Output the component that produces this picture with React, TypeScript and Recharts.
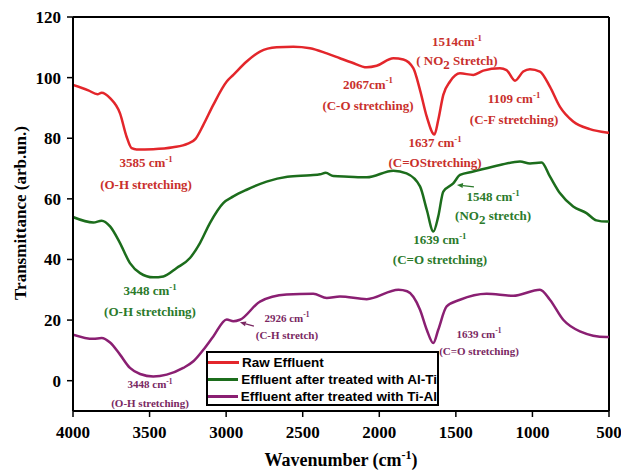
import React from 'react';
import { LineChart, Line, XAxis, YAxis, ReferenceLine, ReferenceDot } from 'recharts';

// [wavenumber, transmittance]
const rawEffluent: number[][] = [
  [4000, 97.6], [3900, 95.8], [3840, 94.5], [3813, 95.0], [3758, 93.2], [3693, 88.2], [3650, 80.5],
  [3617, 76.7], [3585, 76.3], [3477, 76.4], [3347, 77.0], [3250, 78.2], [3200, 79.8], [3149, 84.4], [3084, 91.0],
  [2996, 98.7], [2953, 100.9], [2866, 105.3], [2779, 108.6], [2670, 110.0], [2561, 110.2], [2452, 109.7],
  [2343, 108.0], [2257, 106.4], [2180, 105.0], [2082, 103.4], [2017, 103.9], [1908, 106.4], [1843, 106.0],
  [1778, 103.1], [1734, 95.9], [1690, 87.1], [1640, 81.2], [1615, 86.0], [1582, 94.3], [1538, 98.7],
  [1473, 101.4], [1386, 100.9], [1321, 102.3], [1212, 103.1], [1169, 102.5], [1114, 99.0], [1060, 102.0],
  [1016, 102.8], [951, 102.0], [886, 97.0], [821, 90.4], [734, 85.5], [625, 83.0], [517, 81.9], [500, 81.8],
];

const alTi: number[][] = [
  [4000, 54.0], [3867, 52.2], [3813, 52.8], [3758, 50.9], [3693, 45.4], [3628, 38.8], [3562, 35.5],
  [3476, 34.1], [3410, 34.4], [3323, 37.2], [3236, 40.5], [3171, 45.4], [3106, 52.0], [3019, 58.6],
  [2953, 60.8], [2866, 63.0], [2736, 65.7], [2600, 67.3], [2450, 67.8], [2386, 68.1], [2350, 68.6],
  [2300, 67.5], [2200, 67.3], [2082, 67.1], [1908, 69.3], [1822, 68.4], [1734, 64.1], [1690, 56.4],
  [1647, 49.2], [1615, 54.2], [1582, 62.4], [1517, 65.1], [1473, 67.9], [1386, 69.0], [1212, 71.2],
  [1081, 72.3], [1016, 71.7], [940, 72.0], [886, 67.4], [821, 61.9], [734, 57.5], [647, 55.3],
  [582, 52.9], [517, 52.5], [500, 52.5],
];

const tiAl: number[][] = [
  [4000, 15.2], [3867, 13.8], [3813, 14.1], [3758, 12.6], [3693, 8.6], [3628, 4.2], [3562, 2.2],
  [3476, 1.4], [3388, 2.0], [3280, 4.2], [3214, 6.4], [3149, 10.2], [3084, 14.6], [2996, 20.2],
  [2953, 19.6], [2910, 20.1], [2779, 26.1], [2606, 28.4], [2431, 28.7], [2343, 27.3], [2257, 27.8],
  [2082, 26.9], [1875, 30.0], [1818, 29.5], [1734, 23.4], [1690, 16.8], [1647, 12.4], [1615, 16.8],
  [1560, 24.5], [1473, 26.7], [1299, 28.7], [1125, 28.0], [951, 30.0], [886, 26.7], [799, 20.1],
  [690, 16.3], [517, 14.4], [500, 14.4],
];

const xTicks = [4000, 3500, 3000, 2500, 2000, 1500, 1000, 500];
const yTicks = [0, 20, 40, 60, 80, 100, 120];

const series = [
  { name: 'Raw Effluent', color: '#e3262b', data: rawEffluent },
  { name: 'Effluent after treated with Al-Ti', color: '#1c6d1c', data: alTi },
  { name: 'Effluent after treated with Ti-Al', color: '#8a1f72', data: tiAl },
];

// annotation: position (wavenumber, T) of first line centre
const annotations = [
  { w: 3523, t: 71.9, color: '#c9302c', size: 13, gap: 22, lines: ['3585 cm^-1', '(O-H stretching)'] },
  { w: 2074, t: 97.9, color: '#c9302c', size: 13, gap: 21, lines: ['2067cm^-1', '(C-O stretching)'] },
  { w: 1493, t: 111.8, color: '#c9302c', size: 13, gap: 19, lines: ['1514cm^-1', '( NO_2 Stretch)'] },
  { w: 1636, t: 78.5, color: '#c9302c', size: 13, gap: 20, lines: ['1637 cm^-1', '(C=OStretching)'] },
  { w: 1120, t: 93.0, color: '#c9302c', size: 13, gap: 21, lines: ['1109 cm^-1', '(C-F stretching)'] },
  { w: 3497, t: 29.7, color: '#2b7a2b', size: 13, gap: 21, lines: ['3448 cm^-1', '(O-H stretching)'] },
  { w: 1604, t: 46.5, color: '#2b7a2b', size: 13, gap: 20, lines: ['1639 cm^-1', '(C=O stretching)'] },
  { w: 1257, t: 60.7, color: '#2b7a2b', size: 13, gap: 19, lines: ['1548 cm^-1', '(NO_2 stretch)'] },
  { w: 2603, t: 20.8, color: '#7a2862', size: 11, gap: 17, lines: ['2926 cm^-1', '(C-H stretch)'] },
  { w: 1349, t: 15.5, color: '#7a2862', size: 11, gap: 17, lines: ['1639 cm^-1', '(C=O stretching)'] },
  { w: 3497, t: -1.3, color: '#7a2862', size: 11, gap: 19, lines: ['3448 cm^-1', '(O-H stretching)'] },
];

// arrow heads (wavenumber, T), tail offset in px
const arrows = [
  { w: 1493, t: 64.6, dx: 17, dy: 2, color: '#2b7a2b' },
  { w: 2910, t: 19.3, dx: 14, dy: 4, color: '#7a2862' },
];

const serif = '"Liberation Serif", "Times New Roman", serif';
const sans = '"Liberation Sans", Arial, sans-serif';

const RichLine = ({ text, x, y, size, color }: any) => {
  const parts = text.split(/(\^-1|_2)/).filter((p: string) => p !== '');
  let shift = 0;
  return (
    <text x={x} y={y} textAnchor="middle" fill={color} fontSize={size} fontWeight="bold" fontFamily={serif}>
      {parts.map((p: string, i: number) => {
        let target = 0;
        let content = p;
        let fs = size;
        if (p === '^-1') { target = -size * 0.42; content = '-1'; fs = size * 0.68; }
        if (p === '_2') { target = size * 0.25; content = '2'; fs = size; }
        const dy = target - shift;
        shift = target;
        return <tspan key={i} dy={dy} fontSize={fs}>{content}</tspan>;
      })}
    </text>
  );
};

const AnnoLabel = (props: any) => {
  const { viewBox, lines, color, size, gap } = props;
  if (!viewBox) return null;
  return (
    <g>
      {lines.map((l: string, i: number) => (
        <RichLine key={i} text={l} x={viewBox.x} y={viewBox.y + i * gap + size * 0.35} size={size} color={color} />
      ))}
    </g>
  );
};

const ArrowLabel = (props: any) => {
  const { viewBox, dx, dy, color } = props;
  if (!viewBox) return null;
  const x = viewBox.x;
  const y = viewBox.y;
  const len = Math.sqrt(dx * dx + dy * dy);
  const ux = dx / len;
  const uy = dy / len;
  const hx = x + ux * 6;
  const hy = y + uy * 6;
  return (
    <g>
      <line x1={hx} y1={hy} x2={x + dx} y2={y + dy} stroke={color} strokeWidth={1.2} />
      <polygon
        points={`${x},${y} ${hx - uy * 2.5},${hy + ux * 2.5} ${hx + uy * 2.5},${hy - ux * 2.5}`}
        fill={color}
      />
    </g>
  );
};

const LegendBox = () => (
  <div
    style={{
      position: 'absolute',
      left: 206,
      top: 351,
      border: '2px solid #000',
      background: '#fff',
      width: 229,
      height: 50,
      fontFamily: sans,
      fontWeight: 'bold',
      fontSize: 13.5,
      color: '#000',
      paddingTop: 1,
    }}
  >
    {series.map((s) => (
      <div key={s.name} style={{ display: 'flex', alignItems: 'center', height: 17 }}>
        <div style={{ width: 31, height: 3, background: s.color, marginRight: 3 }} />
        <span style={{ whiteSpace: 'nowrap', lineHeight: '17px' }}>{s.name}</span>
      </div>
    ))}
  </div>
);

export default function App() {
  return (
    <div style={{ position: 'absolute', left: 0, top: 0, width: 621, height: 470, background: '#fff' }}>
      <LineChart width={621} height={470} margin={{ top: 17, right: 12, left: 0, bottom: 0 }}>
        <XAxis
          type="number"
          dataKey="w"
          domain={[500, 4000]}
          reversed
          ticks={xTicks}
          interval={0}
          height={59}
          axisLine={{ stroke: '#000', strokeWidth: 2 }}
          tickLine={{ stroke: '#000', strokeWidth: 1.5 }}
          tickSize={6}
          tickMargin={9}
          tick={{ fill: '#000', fontSize: 17, fontWeight: 'bold', fontFamily: serif }}
          allowDataOverflow
        />
        <YAxis
          type="number"
          dataKey="v"
          domain={[-10, 120]}
          ticks={yTicks}
          interval={0}
          width={73}
          axisLine={{ stroke: '#000', strokeWidth: 2 }}
          tickLine={{ stroke: '#000', strokeWidth: 1.5 }}
          tickSize={6}
          tickMargin={6}
          tick={{ fill: '#000', fontSize: 17, fontWeight: 'bold', fontFamily: serif }}
          allowDataOverflow
        />
        <ReferenceLine y={120} stroke="#000" strokeWidth={2} />
        <ReferenceLine x={500} stroke="#000" strokeWidth={2} />
        {series.map((s) => (
          <Line
            key={s.name}
            name={s.name}
            data={s.data.map(([w, v]) => ({ w, v }))}
            dataKey="v"
            type="monotone"
            stroke={s.color}
            strokeWidth={2.5}
            dot={false}
            activeDot={false}
            isAnimationActive={false}
          />
        ))}
        {annotations.map((a, i) => (
          <ReferenceDot
            key={'a' + i}
            x={a.w}
            y={a.t}
            r={0}
            fill="none"
            stroke="none"
            label={<AnnoLabel lines={a.lines} color={a.color} size={a.size} gap={a.gap} />}
          />
        ))}
        {arrows.map((a, i) => (
          <ReferenceDot
            key={'r' + i}
            x={a.w}
            y={a.t}
            r={0}
            fill="none"
            stroke="none"
            label={<ArrowLabel dx={a.dx} dy={a.dy} color={a.color} />}
          />
        ))}
        <text x={20} y={213} transform="rotate(-90 20 213)" textAnchor="middle" dominantBaseline="central"
          fontSize={17} fontWeight="bold" fontFamily={serif} fill="#000">
          Transmittance (arb.un.)
        </text>
        <text x={341} y={466} textAnchor="middle" fontSize={18} fontWeight="bold" fontFamily={serif} fill="#000">
          Wavenumber (cm<tspan dy={-7} fontSize={12}>-1</tspan><tspan dy={7}>)</tspan>
        </text>
      </LineChart>
      <LegendBox />
    </div>
  );
}
